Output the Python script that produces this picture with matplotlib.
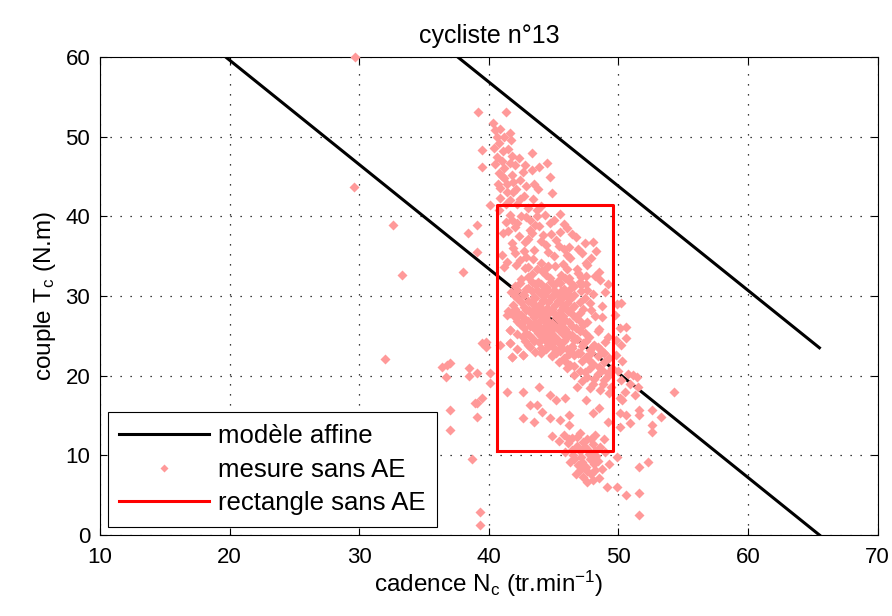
import numpy as np
import matplotlib.pyplot as plt
from matplotlib.lines import Line2D

plt.rcParams['font.family'] = ['Liberation Sans', 'DejaVu Sans']
plt.rcParams['mathtext.default'] = 'regular'

# modele affine (deux droites paralleles)
low_x = [19.7, 65.5]
low_y = [60.0, 0.0]
high_x = [37.6, 65.5]
high_y = [60.0, 23.5]

# rectangle sans AE
rect_x = [40.6, 49.6]
rect_y = [10.6, 41.4]

out_x = [29.7, 29.6, 32.6, 33.3, 32.0, 38.0, 36.8, 36.4, 37.0, 36.7, 38.5, 38.5, 39.1, 37.0, 37.0,
         38.7, 39.3, 39.3, 39.1, 39.5, 38.9, 39.1, 39.8, 39.5, 40.1, 40.1, 39.8, 41.4, 41.6, 40.9]
out_y = [60.0, 43.7, 38.9, 32.6, 22.1, 33.0, 21.3, 21.1, 21.6, 19.8, 21.0, 20.0, 20.3, 15.7, 13.2,
         9.5, 2.9, 1.3, 16.6, 17.2, 16.6, 14.8, 23.6, 24.1, 20.3, 19.1, 24.2, 27.6, 25.7, 23.8]

top_x = [39.2, 41.3, 40.3, 40.5, 40.6, 40.8, 40.4, 41.6, 41.7, 41.5, 41.8, 41.6, 39.5, 39.5, 43.3,
         44.5, 43.9, 43.3, 44.7, 44.9, 40.8, 41.2, 41.9, 42.4, 42.1, 41.4, 42.7, 40.9, 41.6, 43.4,
         42.2, 44.0, 39.1, 38.4, 39.1, 40.1, 41.0, 40.7,
         40.6, 41.1, 41.2, 40.9, 41.8, 42.6, 42.9, 41.3, 43.5, 42.0,
         40.5, 41.0, 41.4, 40.8, 41.9, 42.4, 43.0, 41.2, 40.9, 42.3, 42.8, 43.8]
top_y = [53.1, 53.1, 51.7, 50.8, 49.9, 49.2, 48.6, 50.5, 49.6, 48.5, 47.6, 46.7, 48.3, 46.2, 48.0,
         46.7, 46.2, 45.8, 44.9, 42.9, 45.4, 44.8, 44.3, 44.6, 43.4, 43.0, 42.6, 42.3, 42.0, 42.2,
         41.5, 41.3, 38.9, 37.9, 35.5, 41.4, 47.0, 44.0,
         47.4, 48.2, 46.1, 43.6, 45.2, 45.6, 43.8, 41.6, 44.0, 46.5,
         46.6, 45.0, 44.0, 40.8, 43.0, 42.2, 41.0, 50.0, 51.0, 47.3, 46.4, 43.4]

upper_x = [41.1, 43.2, 43.2, 44.7, 43.7, 43.7, 48.0, 47.2, 47.5, 45.2, 41.8, 42.4, 41.6, 42.5, 45.5,
           46.0, 44.2, 42.8, 43.5, 44.6, 45.8, 46.3, 41.3, 42.0, 44.0, 43.0, 45.1, 41.0, 46.7, 47.4,
           48.5, 49.2, 41.6, 42.6,
           41.8, 42.3, 43.0, 43.9, 44.4, 45.0, 45.5, 46.2, 42.0, 43.4, 44.6, 46.8, 47.9, 41.2,
           41.5, 42.2, 42.9, 43.6, 44.3, 45.0, 45.8, 46.4, 41.9, 42.7, 43.3, 44.0, 44.8, 45.4,
           46.0, 46.9, 47.6, 48.3, 41.4, 42.1, 42.9, 43.7, 45.7, 47.1]
upper_y = [37.9, 38.3, 39.5, 39.2, 40.0, 40.8, 36.8, 35.4, 34.1, 37.0, 36.6, 34.5, 40.2, 40.0, 40.3,
           38.5, 37.6, 36.8, 35.8, 35.5, 35.9, 34.8, 39.3, 38.6, 34.2, 33.6, 33.8, 35.2, 37.4, 36.6,
           33.0, 31.5, 27.9, 27.4,
           39.5, 37.5, 37.2, 38.8, 36.4, 35.0, 38.0, 36.2, 35.4, 34.6, 33.8, 33.4, 34.8, 33.6,
           38.2, 39.2, 39.9, 38.9, 40.2, 39.6, 39.0, 37.8, 36.0, 35.6, 37.9, 36.9, 37.8, 36.3,
           35.2, 35.9, 33.9, 35.6, 34.3, 33.9, 34.9, 33.4, 34.0, 32.4]

blob_x = [43.3, 44.1, 45.6, 46.9, 48.2,
          42.5, 43.8, 44.7, 45.3, 46.2, 47.0, 48.6,
          42.0, 43.0, 43.6, 44.4, 45.0, 45.8, 46.6, 47.5,
          41.7, 42.6, 43.3, 44.0, 44.6, 45.3, 46.0, 47.1, 48.0, 49.0,
          42.2, 43.0, 43.6, 44.2, 44.9, 45.5, 46.3, 47.4,
          41.9, 42.7, 43.4, 43.9, 44.5, 45.1, 45.7, 46.6, 47.8, 48.7,
          41.5, 42.3, 43.1, 43.7, 44.3, 44.8, 45.4, 46.1, 47.0,
          42.0, 42.8, 43.5, 44.1, 44.6, 45.2, 45.9, 46.7, 48.2,
          42.4, 43.2, 43.8, 44.4, 45.0, 45.6, 46.4, 47.3,
          41.6, 42.9, 43.6, 44.2, 44.8, 45.4, 46.1, 47.0, 48.5,
          42.6, 43.4, 44.0, 44.7, 45.3, 46.0, 46.8, 47.7,
          41.6, 43.0, 43.9, 44.6, 45.5, 46.4, 47.3, 48.1, 49.0,
          42.2, 43.6, 44.4, 45.2, 46.0, 46.9, 47.8, 48.6,
          41.8, 42.6, 44.9, 45.8, 46.6, 47.5, 48.4, 49.3,
          45.4, 46.3, 47.2, 48.0, 48.9,
          46.0, 47.0, 47.8, 48.7, 49.5,
          46.6, 47.6, 48.4, 49.2,
          47.2, 48.0, 48.9,
          47.8, 48.6, 49.4]
blob_y = [32.8, 33.1, 32.6, 32.9, 32.5,
          32.1, 31.8, 32.2, 31.9, 32.3, 31.7, 32.0,
          31.3, 31.0, 31.5, 31.1, 31.4, 30.9, 31.2, 31.5,
          30.5, 30.2, 30.6, 30.3, 30.7, 30.1, 30.4, 30.6, 30.2, 30.5,
          29.7, 29.4, 29.8, 29.5, 29.9, 29.3, 29.6, 29.8,
          28.9, 28.6, 29.0, 28.7, 28.5, 28.9, 28.6, 28.8, 29.1, 28.7,
          28.1, 27.8, 28.2, 27.9, 28.0, 28.3, 27.8, 28.1, 27.9,
          27.3, 27.0, 27.4, 27.1, 26.9, 27.3, 27.0, 27.2, 27.5,
          26.5, 26.2, 26.6, 26.3, 26.1, 26.5, 26.2, 26.4,
          25.7, 25.4, 25.8, 25.5, 25.3, 25.7, 25.4, 25.6, 25.9,
          24.9, 24.6, 25.0, 24.7, 24.5, 24.9, 24.6, 24.8,
          24.1, 23.8, 24.2, 23.9, 24.0, 23.7, 24.1, 23.9, 24.2,
          23.3, 23.0, 23.4, 23.1, 23.3, 22.9, 23.2, 23.4,
          22.3, 22.6, 22.5, 22.2, 22.6, 22.3, 22.5, 22.2,
          21.7, 21.4, 21.8, 21.5, 21.7,
          20.9, 20.6, 21.0, 20.7, 20.9,
          20.1, 19.8, 20.2, 19.9,
          19.3, 19.0, 19.4,
          18.5, 18.2, 18.6]

# second passage dans le noyau dense
core_x = [42.8, 44.5, 46.0,
          43.0, 44.4, 45.9, 47.5,
          42.4, 43.3, 44.0, 44.8, 45.5, 46.3, 47.1,
          42.2, 42.9, 43.7, 44.3, 45.0, 45.6, 46.3, 47.6,
          42.0, 42.7, 43.5, 44.3, 44.9, 45.7, 46.6,
          42.5, 43.3, 44.0, 44.6, 45.3, 46.0, 47.0,
          42.0, 42.9, 43.6, 44.2, 44.9, 45.6, 46.4, 47.3,
          42.5, 43.3, 44.0, 44.5, 45.1, 45.7, 46.5,
          42.2, 43.0, 43.6, 44.3, 44.9, 45.5, 46.2, 47.0,
          42.7, 43.4, 44.0, 44.6, 45.2, 45.9, 46.7,
          42.2, 43.1, 43.8, 44.4, 45.0, 45.7, 46.4, 47.4,
          42.8, 43.5, 44.3, 45.0, 45.8, 46.6, 47.5,
          43.2, 44.0, 44.9, 45.6, 46.4, 47.2, 48.4,
          44.0, 45.2, 46.2, 47.0, 47.9, 48.9]
core_y = [33.5, 33.7, 33.4,
          32.4, 32.6, 32.3, 32.5,
          31.6, 31.7, 31.5, 31.8, 31.6, 31.7, 31.4,
          30.8, 30.9, 30.7, 30.9, 30.8, 30.6, 30.9, 30.8,
          30.0, 30.1, 29.9, 30.1, 30.0, 29.9, 30.1,
          29.2, 29.3, 29.1, 29.2, 29.4, 29.1, 29.3,
          28.4, 28.3, 28.5, 28.3, 28.4, 28.2, 28.5, 28.4,
          27.6, 27.7, 27.5, 27.6, 27.7, 27.5, 27.6,
          26.8, 26.9, 26.7, 26.8, 26.6, 26.9, 26.7, 26.8,
          26.0, 26.1, 25.9, 26.0, 26.1, 25.9, 26.0,
          25.2, 25.1, 25.3, 25.2, 25.0, 25.2, 25.1, 25.3,
          24.4, 24.3, 24.5, 24.4, 24.3, 24.5, 24.4,
          23.6, 23.5, 23.7, 23.6, 23.5, 23.7, 23.6,
          22.8, 22.9, 22.7, 22.9, 22.8, 22.9]

# queue diagonale vers le bas a droite
tail_x = [45.9, 46.6, 47.4, 48.1, 48.8, 49.3, 46.9, 47.7, 48.5, 49.2, 45.5, 48.0, 48.9, 49.2,
          48.4, 47.6, 48.7, 47.9]
tail_y = [21.9, 21.2, 20.4, 19.6, 18.9, 17.8, 22.8, 22.0, 21.1, 20.3, 23.1, 23.7, 22.9, 24.8,
          25.6, 26.7, 27.4, 28.2]

right_x = [49.8, 50.3, 50.0, 50.7, 51.1, 50.2, 50.9, 51.5, 50.5, 51.3, 50.1, 54.3, 53.3, 52.6, 52.6,
           52.6, 51.6, 51.6, 50.9, 50.6, 50.1, 50.1, 50.3, 51.4, 49.9, 49.9, 50.6, 51.6, 52.3, 51.6,
           51.6, 49.1, 49.8, 50.1, 49.7, 49.9, 50.2, 50.2, 50.6, 50.6]
right_y = [22.6, 21.8, 20.6, 20.2, 20.1, 19.4, 19.0, 18.6, 18.0, 17.6, 17.2, 17.9, 14.8, 15.7, 13.8,
           12.9, 15.7, 15.1, 14.1, 15.1, 15.3, 13.6, 16.9, 19.8, 9.8, 6.0, 5.0, 8.5, 9.2, 5.3,
           2.5, 6.0, 24.5, 26.0, 27.6, 29.0, 23.8, 29.1, 26.1, 24.7]

low_rect_x = [41.4, 42.6, 44.7, 43.2, 43.7, 42.6, 43.5, 44.7, 45.5, 46.2, 46.2, 48.0, 46.8, 49.2, 43.9,
              45.9, 44.1, 47.5, 48.5, 45.2, 41.8, 42.6, 44.9, 41.6]
low_rect_y = [17.9, 17.9, 17.6, 16.3, 16.3, 14.7, 14.2, 14.7, 14.4, 15.1, 13.8, 15.3, 18.6, 14.2, 18.6,
              17.2, 15.5, 17.0, 16.0, 16.9, 22.3, 22.6, 22.6, 24.1]

bottom_x = [45.8, 46.4, 47.0, 47.6, 48.2, 46.1, 46.8, 47.4, 48.0, 48.6, 45.9, 46.5, 47.1, 47.7, 48.3,
            49.0, 46.3, 46.9, 47.5, 48.1, 48.7, 46.7, 47.3, 47.9, 48.5, 47.6, 48.9, 45.4, 44.9, 49.3,
            46.2, 46.8, 47.3, 47.9, 46.4, 47.0, 47.6, 48.2, 46.6, 47.2, 47.8, 48.4, 47.0, 47.6, 48.2, 48.0]
bottom_y = [12.6, 12.2, 12.8, 12.1, 12.5, 11.5, 11.2, 11.0, 11.4, 11.1, 10.4, 10.1, 9.8, 10.2, 9.9,
            10.4, 9.2, 8.8, 8.5, 8.9, 8.3, 7.7, 7.3, 7.6, 7.1, 6.6, 12.0, 11.8, 12.4, 8.9,
            12.0, 12.3, 11.7, 12.0, 10.7, 10.5, 10.8, 10.6, 9.5, 9.2, 9.5, 9.3, 8.2, 8.0, 8.1, 6.9]

meas_x = out_x + top_x + upper_x + blob_x + core_x + tail_x + right_x + low_rect_x + bottom_x
meas_y = out_y + top_y + upper_y + blob_y + core_y + tail_y + right_y + low_rect_y + bottom_y

fig = plt.figure(figsize=(8.92, 6.16), dpi=100)
ax = fig.add_axes([0.112, 0.1315, 0.872, 0.776])

ax.plot(low_x, low_y, color='k', lw=2.2, zorder=2)
ax.plot(high_x, high_y, color='k', lw=2.2, zorder=2)
ax.plot(meas_x, meas_y, 'D', ms=5.2, color='#FF9999', mec='none', zorder=3, clip_on=False)
rx = [rect_x[0], rect_x[1], rect_x[1], rect_x[0], rect_x[0]]
ry = [rect_y[0], rect_y[0], rect_y[1], rect_y[1], rect_y[0]]
ax.plot(rx, ry, color='red', lw=2.2, zorder=4)

ax.set_xlim(10, 70)
ax.set_ylim(0, 60)
ax.set_xticks(np.arange(10, 71, 10))
ax.set_yticks(np.arange(0, 61, 10))
ax.grid(True, color='k', linestyle=(0, (1, 7)), lw=0.9)
ax.tick_params(direction='in', length=5, top=True, right=True, labelsize=16)
ax.tick_params(axis='x', pad=9)
ax.tick_params(axis='y', pad=7)
for s in ax.spines.values():
    s.set_linewidth(0.8)

ax.set_title('cycliste n°13', fontsize=18, pad=10)
ax.set_xlabel('cadence N$_c$ (tr.min$^{-1}$)', fontsize=17.5, labelpad=0)
ax.set_ylabel('couple T$_c$ (N.m)', fontsize=17.5, labelpad=5)

handles = [Line2D([], [], color='k', lw=2.2),
           Line2D([], [], marker='D', ms=4, color='#FF9999', mec='none', ls='none'),
           Line2D([], [], color='red', lw=2.2)]
labels = ['modèle affine', 'mesure sans AE', 'rectangle sans AE']
leg = ax.legend(handles, labels, loc='lower left', bbox_to_anchor=(0.0103, 0.0167),
                borderaxespad=0, fontsize=18.5, fancybox=False, framealpha=1,
                edgecolor='k', handlelength=3.5, handletextpad=0.35, labelspacing=0.38,
                borderpad=0.45)
leg.get_frame().set_linewidth(0.8)

fig.savefig('out.png', dpi=100)
